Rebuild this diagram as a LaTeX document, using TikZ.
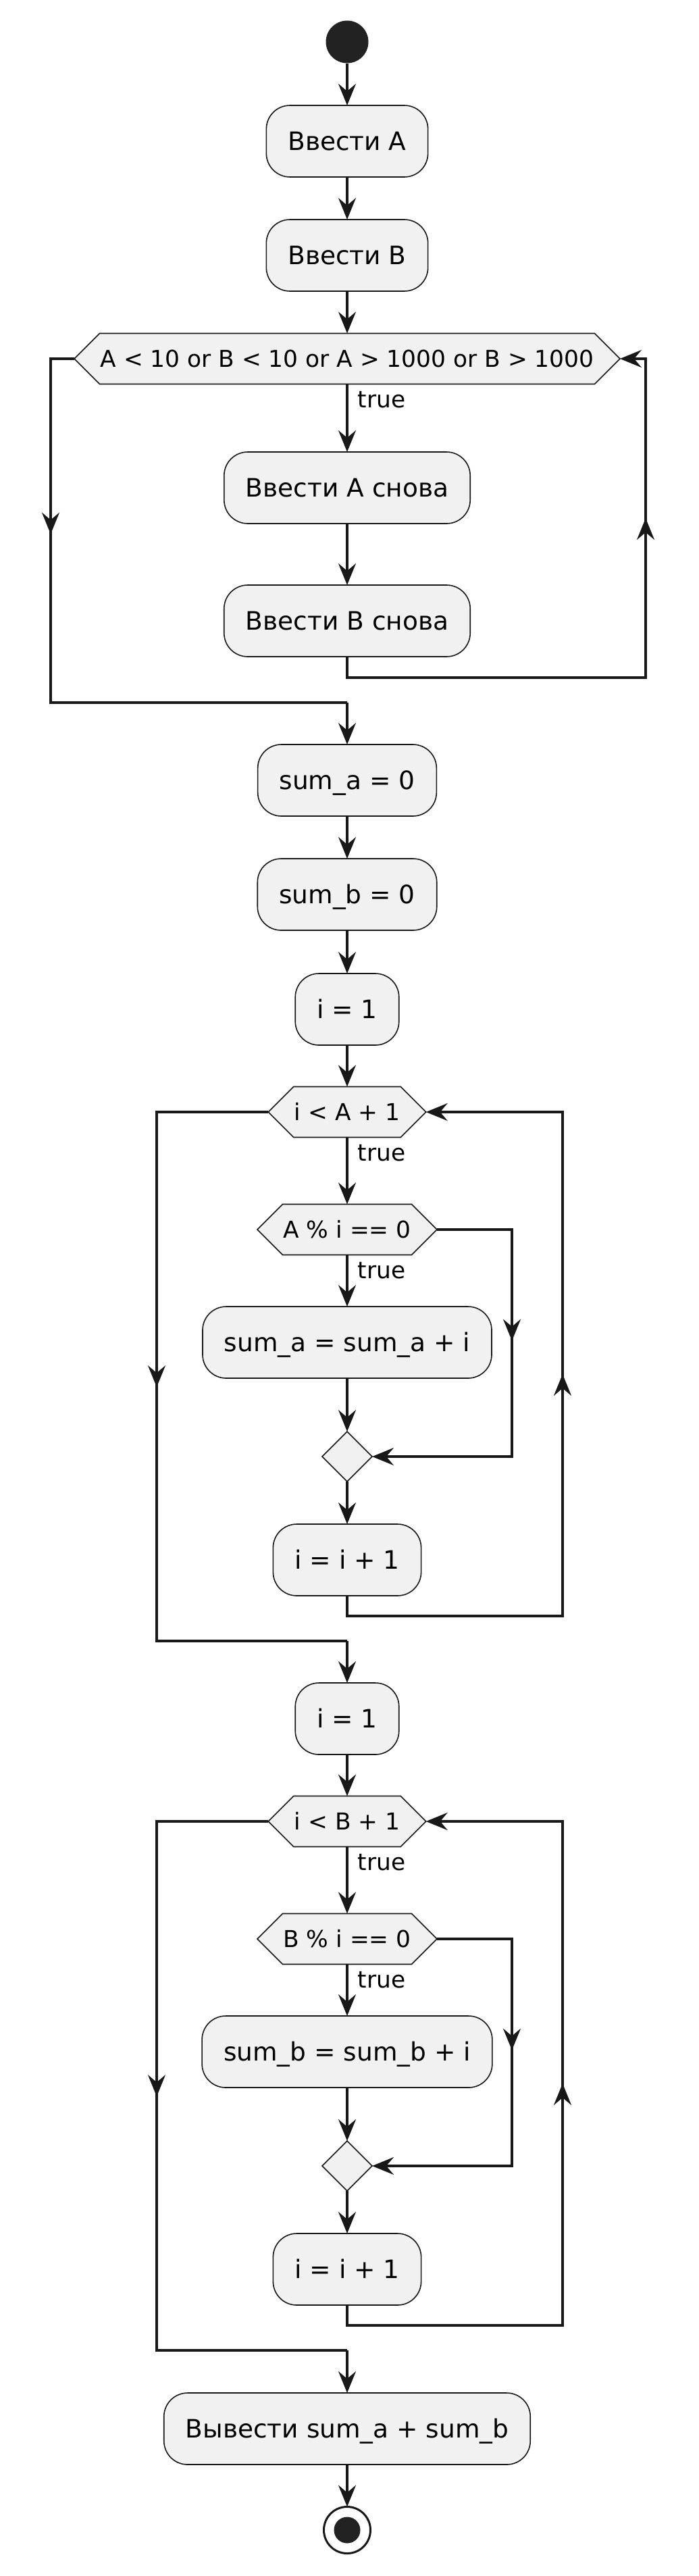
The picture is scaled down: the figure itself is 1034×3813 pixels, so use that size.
\documentclass[tikz,border=0pt]{standalone}
\usepackage{fontspec}
\setmainfont{DejaVu Sans}
\usepackage{tikz}
\usetikzlibrary{arrows.meta}
\usetikzlibrary{shapes.geometric}
\usetikzlibrary{shapes.symbols}
\usetikzlibrary{calc}
\definecolor{boxc}{HTML}{F1F1F1}
\definecolor{linec}{HTML}{181818}
\definecolor{dotc}{HTML}{222222}
\newcommand{\actfont}{\fontsize{37.5}{45}\selectfont}
\newcommand{\condfont}{\fontsize{34.4}{41}\selectfont}

\begin{document}
\begin{tikzpicture}[x=1pt, y=-1pt,
    >={Stealth[length=32pt, width=26pt, inset=11pt]},
    act/.style={rectangle, rounded corners=35pt, draw=linec, fill=boxc,
      line width=1.6pt, minimum height=106pt, inner xsep=32pt,
      text height=28pt, text depth=1pt, font=\actfont, outer sep=0pt},
    cond/.style={signal, signal to=west and east, signal pointer angle=90,
      draw=linec, fill=boxc, line width=1.6pt, minimum height=75pt,
      inner xsep=1pt, text height=25pt, text depth=1pt, font=\condfont,
      outer sep=0pt},
    merge/.style={diamond, draw=linec, fill=boxc, line width=1.6pt,
      minimum width=74pt, minimum height=74pt, inner sep=0pt, outer sep=0pt},
    startdot/.style={circle, fill=dotc, minimum size=63pt, inner sep=0pt},
    stopdot/.style={circle, draw=linec, fill=white, line width=3pt,
      minimum size=69pt, inner sep=0pt, outer sep=0pt},
    line/.style={draw=linec, line width=3.2pt},
    flow/.style={line, ->},
    lbl/.style={font=\condfont, pos=0, anchor=north west, inner sep=0pt,
      xshift=14pt, yshift=-9pt}]

    \useasboundingbox (0,0) rectangle (1034,3813);

    % input of A and B
    \node[startdot] (start) at (514,62) {};
    \node[act] (inA) at (514,209) {Ввести A};
    \node[act] (inB) at (514,378) {Ввести B};
    \node[cond] (chk) at (514,531) {A < 10 or B < 10 or A > 1000 or B > 1000};
    \node[act] (reA) at (514,722) {Ввести A снова};
    \node[act] (reB) at (514,919) {Ввести B снова};
    \coordinate (backChk) at (956,1003);
    \coordinate (exitChk) at (75,1040);

    \node[act] (sumA) at (514,1155) {sum\_a = 0};
    \node[act] (sumB) at (514,1324) {sum\_b = 0};

    % the two summing loops
    \foreach \v/\s/\dy in {A/a/0, B/b/1050}
    {
      \node[act] (init\v) at (514,{1494+\dy}) {i = 1};
      \node[cond] (wh\v) at (514,{1646+\dy}) {i < \v{} + 1};
      \node[cond] (if\v) at (514,{1820+\dy}) {\v{} \% i == 0};
      \node[act] (add\v) at (514,{1987+\dy}) {sum\_\s{} = sum\_\s{} + i};
      \node[merge] (mrg\v) at (514,{2156+\dy}) {};
      \node[act] (inc\v) at (514,{2309+\dy}) {i = i + 1};
      \coordinate (skip\v) at (758,{2156+\dy});
      \coordinate (back\v) at (833,{2392+\dy});
      \coordinate (exit\v) at (232,{2429+\dy});
    }

    \node[act] (res) at (514,3595) {Вывести sum\_a + sum\_b};
    \node[stopdot] (stop) at (514,3745) {};
    \fill[dotc] (stop.center) circle (19.5pt);

    % connectors
    \draw[flow] (start) -- (inA);
    \draw[flow] (inA) -- (inB);
    \draw[flow] (inB) -- (chk.north);
    \draw[flow] (chk.south) -- node[lbl]{true} (reA);
    \draw[flow] (reA) -- (reB);
    \draw[flow] (reB.south) |- (backChk) -- (backChk |- chk.east) -- (chk.east);
    \draw[flow] (backChk) -- ($(backChk)!0.5!(backChk |- chk.east)$);
    \draw[line] (chk.west) -| (exitChk) -- (exitChk -| sumA.north);
    \draw[flow] (chk.west -| exitChk) -- ($(chk.west -| exitChk)!0.51!(exitChk)$);
    \draw[flow] (exitChk -| sumA.north) -- (sumA);
    \draw[flow] (sumA) -- (sumB);
    \draw[flow] (sumB) -- (initA);

    \foreach \v in {A,B}
    {
      \draw[flow] (init\v) -- (wh\v.north);
      \draw[flow] (wh\v.south) -- node[lbl]{true} (if\v.north);
      \draw[flow] (if\v.south) -- node[lbl]{true} (add\v);
      \draw[flow] (add\v) -- (mrg\v);
      \draw[flow] (if\v.east) -| (skip\v) -- (mrg\v.east);
      \draw[flow] (if\v.east -| skip\v) -- ($(if\v.east -| skip\v)!0.49!(skip\v)$);
      \draw[flow] (mrg\v) -- (inc\v);
      \draw[flow] (inc\v.south) |- (back\v) -- (back\v |- wh\v.east) -- (wh\v.east);
      \draw[flow] (back\v) -- ($(back\v)!0.48!(back\v |- wh\v.east)$);
      \draw[line] (wh\v.west) -| (exit\v) -- (exit\v -| wh\v.south);
      \draw[flow] (wh\v.west -| exit\v) -- ($(wh\v.west -| exit\v)!0.52!(exit\v)$);
    }
    \draw[flow] (exitA -| initB.north) -- (initB);
    \draw[flow] (exitB -| res.north) -- (res);
    \draw[flow] (res) -- (stop);

\end{tikzpicture}
\end{document}
